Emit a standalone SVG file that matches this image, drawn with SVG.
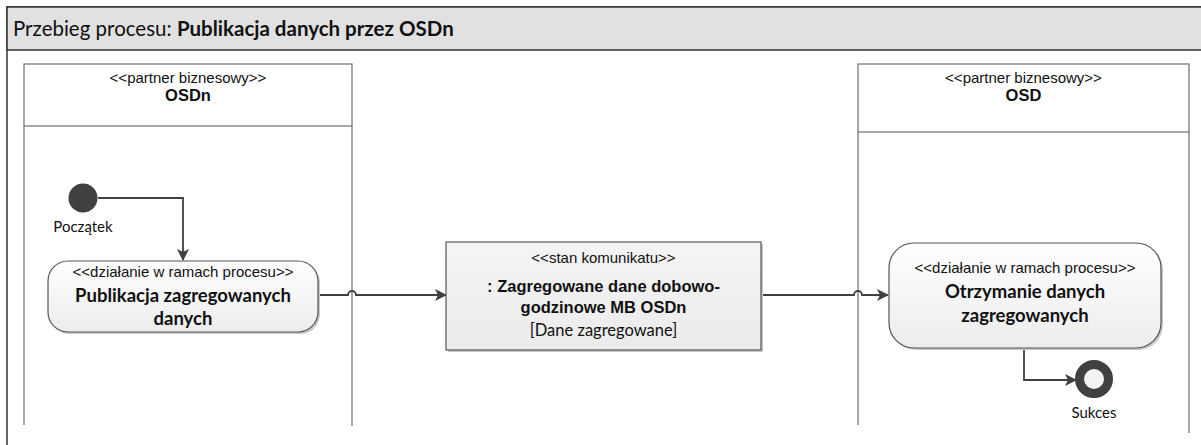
<svg xmlns="http://www.w3.org/2000/svg" width="1201" height="445" viewBox="0 0 1201 445">
<style>
.frame{fill:#ffffff;stroke:#333333;stroke-width:1.5}
.hdr{fill:#e1e1e1;stroke:#333333;stroke-width:1.5}
.lane{fill:none;stroke:#6e6e6e;stroke-width:1.2}
.st{font-family:"Liberation Sans",Arial,sans-serif;font-size:15px;fill:#111;text-anchor:middle}
.nm{font-family:"Liberation Sans",Arial,sans-serif;font-size:16.5px;font-weight:bold;fill:#111;text-anchor:middle}
.cb{font-family:Lato,"Open Sans",sans-serif;font-size:18.5px;font-weight:bold;fill:#111;text-anchor:middle}
.cr{font-family:Lato,"Open Sans",sans-serif;font-size:15px;fill:#111;text-anchor:middle}
.cr2{font-family:Lato,"Open Sans",sans-serif;font-size:16.5px;fill:#111;text-anchor:middle}
.act{fill:url(#ga);stroke:#555555;stroke-width:1.2}
.obj{fill:url(#go);stroke:#555555;stroke-width:1.2}
.sh{fill:#c8c8c8}
.cn{fill:none;stroke:#404040;stroke-width:1.8}
</style>
<defs>
<linearGradient id="ga" x1="0" y1="0" x2="0" y2="1"><stop offset="0" stop-color="#ffffff"/><stop offset="1" stop-color="#ececec"/></linearGradient>
<linearGradient id="go" x1="0" y1="0" x2="0" y2="1"><stop offset="0" stop-color="#f4f4f4"/><stop offset="1" stop-color="#ebebeb"/></linearGradient>
<marker id="ar" markerWidth="12" markerHeight="12" refX="11" refY="6" orient="auto" markerUnits="userSpaceOnUse"><path d="M0,0 L12,6 L0,12 L3,6 Z" fill="#404040"/></marker>
</defs>
<g id="frame">
<rect class="frame" x="7" y="7" width="1210" height="460"/>
<rect class="hdr" x="7" y="7" width="1210" height="43"/>
<text x="13" y="36" font-family="Lato,'Open Sans',sans-serif" font-size="20.5px" fill="#111">Przebieg procesu: <tspan font-weight="bold">Publikacja danych przez OSDn</tspan></text>
</g>
<g id="lane-osdn">
<rect x="24" y="64" width="328" height="62" fill="#ffffff" stroke="#6e6e6e" stroke-width="1.2"/>
<path class="lane" d="M24,126 V425 M352,126 V426"/>
<text class="st" x="188" y="83">&lt;&lt;partner biznesowy&gt;&gt;</text>
<text class="nm" x="188" y="101">OSDn</text>
</g>
<g id="lane-osd">
<rect x="858" y="64" width="331" height="68" fill="#ffffff" stroke="#6e6e6e" stroke-width="1.2"/>
<path class="lane" d="M858,132 V425 M1189,132 V433"/>
<text class="st" x="1023.5" y="83">&lt;&lt;partner biznesowy&gt;&gt;</text>
<text class="nm" x="1023.5" y="101">OSD</text>
</g>
<g id="connectors">
<path class="cn" d="M98,198 H183 V260" marker-end="url(#ar)"/>
<path class="cn" d="M318,295 H348 A4,4 0 0 1 356,295 H446" marker-end="url(#ar)"/>
<path class="cn" d="M761,295 H854 A4,4 0 0 1 862,295 H888" marker-end="url(#ar)"/>
<path class="cn" d="M1024,348 V380 H1076" marker-end="url(#ar)"/>
</g>
<g id="start">
<circle cx="83" cy="198" r="14.5" fill="#404040"/>
<text class="cr" x="83" y="232">Początek</text>
</g>
<g id="act1">
<rect class="sh" x="50" y="263" width="270" height="71" rx="20"/>
<rect class="act" x="48" y="261" width="270" height="71" rx="20"/>
<text class="st" x="183" y="277">&lt;&lt;działanie w ramach procesu&gt;&gt;</text>
<text class="cb" x="183" y="302">Publikacja zagregowanych</text>
<text class="cb" x="183" y="325">danych</text>
</g>
<g id="obj">
<rect class="sh" x="448" y="244" width="315" height="108"/>
<rect class="obj" x="446" y="242" width="315" height="108"/>
<text class="st" x="603.5" y="263">&lt;&lt;stan komunikatu&gt;&gt;</text>
<text class="nm" x="603.5" y="292">: Zagregowane dane dobowo-</text>
<text class="nm" x="603.5" y="313">godzinowe MB OSDn</text>
<text class="cr2" x="603.5" y="336">[Dane zagregowane]</text>
</g>
<g id="act2">
<rect class="sh" x="891" y="245" width="272" height="105" rx="25"/>
<rect class="act" x="889" y="243" width="272" height="105" rx="25"/>
<text class="st" x="1025" y="273">&lt;&lt;działanie w ramach procesu&gt;&gt;</text>
<text class="cb" x="1025" y="298">Otrzymanie danych</text>
<text class="cb" x="1025" y="322">zagregowanych</text>
</g>
<g id="end">
<circle cx="1094" cy="379" r="14.5" fill="#f2f2f2" stroke="#404040" stroke-width="9"/>
<text class="cr" x="1094" y="418">Sukces</text>
</g>
</svg>
